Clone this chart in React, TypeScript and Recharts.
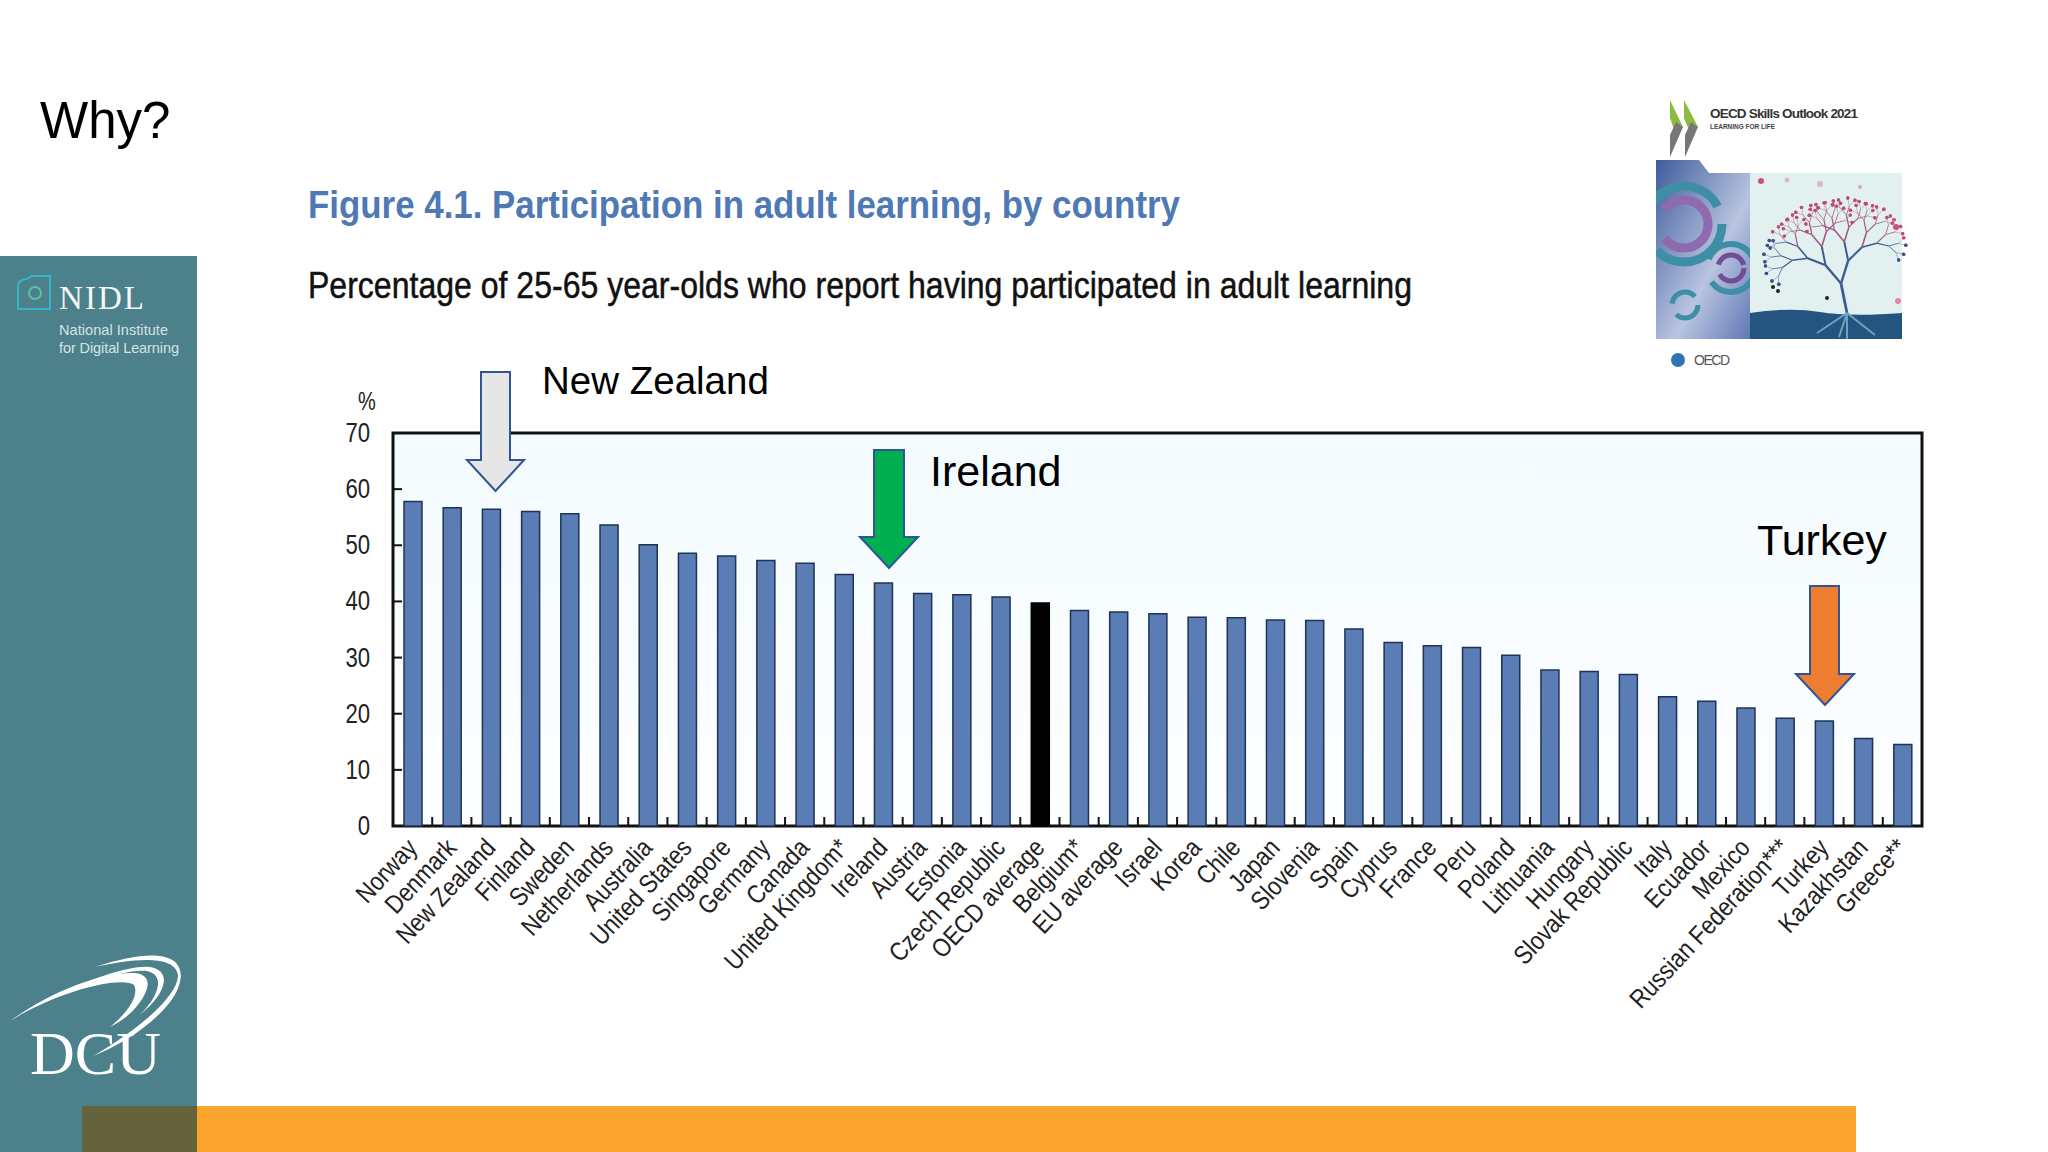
import React from 'react'
import { BarChart, Bar, XAxis, YAxis, Cell, ReferenceArea } from 'recharts'

const countries = [
  'Norway', 'Denmark', 'New Zealand', 'Finland', 'Sweden', 'Netherlands', 'Australia', 'United States',
  'Singapore', 'Germany', 'Canada', 'United Kingdom*', 'Ireland', 'Austria', 'Estonia', 'Czech Republic',
  'OECD average', 'Belgium*', 'EU average', 'Israel', 'Korea', 'Chile', 'Japan', 'Slovenia', 'Spain',
  'Cyprus', 'France', 'Peru', 'Poland', 'Lithuania', 'Hungary', 'Slovak Republic', 'Italy', 'Ecuador',
  'Mexico', 'Russian Federation***', 'Turkey', 'Kazakhstan', 'Greece**'
]
const participation = [
  57.8, 56.7, 56.4, 56, 55.6, 53.6, 50.1, 48.6, 48.1, 47.3, 46.8, 44.8, 43.3, 41.4, 41.2, 40.8, 39.7, 38.4,
  38.1, 37.8, 37.2, 37.1, 36.7, 36.6, 35.1, 32.7, 32.1, 31.8, 30.4, 27.8, 27.5, 27, 23, 22.2, 21, 19.2, 18.7,
  15.6, 14.5
]
const yTicks = [0, 10, 20, 30, 40, 50, 60, 70]
const data = countries.map((name, i) => ({ name, value: participation[i] }))

const sans = '"Liberation Sans", Arial, sans-serif'
const serif = '"Liberation Serif", serif'
const step = 1529 / countries.length

function CountryTick({ x, y, payload, index }: any) {
  return (
    <g>
      {index > 0 && <line x1={x - step / 2} x2={x - step / 2} y1={y - 9} y2={y} stroke="#111" strokeWidth={2} />}
      <text
        transform={`translate(${x + 6} ${y + 23}) rotate(-47) scale(0.86 1)`}
        textAnchor="end"
        fontFamily={sans}
        fontSize={26}
        fill="#222"
      >
        {payload.value}
      </text>
    </g>
  )
}

function PercentTick({ x, y, payload }: any) {
  return (
    <g>
      {payload.value > 0 && payload.value < 70 && <line x1={x} x2={x + 9} y1={y} y2={y} stroke="#111" strokeWidth={2} />}
      <text transform={`translate(${x - 23} ${y + 9}) scale(0.82 1)`} textAnchor="end" fontFamily={sans} fontSize={27} fill="#222">
        {payload.value}
      </text>
    </g>
  )
}

function Arrow({ l, r, wl, wr, top, neck, tip, fill }: any) {
  const cx = (wl + wr) / 2
  return (
    <polygon
      points={`${l},${top} ${r},${top} ${r},${neck} ${wr},${neck} ${cx},${tip} ${wl},${neck} ${l},${neck}`}
      fill={fill}
      stroke="#2F5597"
      strokeWidth={2}
    />
  )
}

// tree on the book cover, only decoration
function branches(x: number, y: number, a: number, len: number, depth: number, out: any[]) {
  if (depth === 0) {
    out.push(<circle key={out.length} cx={x} cy={y} r={1.7} fill={y < 240 ? '#C04A78' : '#3F4F8F'} />)
    return
  }
  const x2 = x + Math.cos(a) * len
  const y2 = y + Math.sin(a) * len
  out.push(
    <line key={out.length} x1={x} y1={y} x2={x2} y2={y2} stroke={y2 < 240 ? '#A8567F' : '#3F5C8F'} strokeWidth={depth * 0.4} />
  )
  branches(x2, y2, a - 0.5, len * 0.8, depth - 1, out)
  branches(x2, y2, a + 0.5, len * 0.8, depth - 1, out)
}

function Tree() {
  const out: any[] = []
  branches(1847, 313, -Math.PI / 2 - 0.2, 30, 7, out)
  return <g>{out}</g>
}

const coverDots = [
  [1761, 181, 3, '#C9527F'], [1787, 180, 2.5, '#D9B8C8'], [1820, 184, 3, '#D9B8C8'], [1860, 187, 2, '#D9A8BC'],
  [1896, 227, 3, '#C9527F'], [1898, 301, 3, '#E08AA8'], [1773, 287, 2, '#222'], [1778, 291, 2, '#222'], [1827, 298, 2, '#222']
]

export default function App() {
  return (
    <div style={{ position: 'absolute', left: 0, top: 0, width: 2048, height: 1152, background: '#fff', overflow: 'hidden' }}>
      <div style={{ position: 'absolute', left: 0, top: 0 }}>
        <BarChart
          width={2048}
          height={1152}
          data={data}
          barSize={18}
          margin={{ top: 433, right: 126, bottom: 226, left: 333 }}
        >
          <defs>
            <linearGradient id="plotBg" x1="0" y1="0" x2="0" y2="1">
              <stop offset="0" stopColor="#F3FBFE" />
              <stop offset="1" stopColor="#FDFEFF" />
            </linearGradient>
          </defs>
          <ReferenceArea y1={0} y2={70} fill="url(#plotBg)" fillOpacity={1} stroke="#111" strokeWidth={3} />
          <XAxis dataKey="name" interval={0} height={100} axisLine={false} tickLine={false} tickSize={0} tickMargin={0} tick={<CountryTick />} />
          <YAxis width={60} domain={[0, 70]} ticks={yTicks} axisLine={false} tickLine={false} tickSize={0} tickMargin={0} tick={<PercentTick />} />
          <Bar dataKey="value" isAnimationActive={false} fill="#5A7DB6" stroke="#1F3355" strokeWidth={1.5}>
            {data.map((d) => (
              <Cell key={d.name} fill={d.name === 'OECD average' ? '#000' : '#5A7DB6'} stroke={d.name === 'OECD average' ? '#000' : '#1F3355'} />
            ))}
          </Bar>
        </BarChart>
      </div>

      <svg width={2048} height={1152} style={{ position: 'absolute', left: 0, top: 0, pointerEvents: 'none' }}>
        <defs>
          <linearGradient id="coverBlue" x1="0" y1="0" x2="1" y2="1">
            <stop offset="0" stopColor="#3E5C9C" />
            <stop offset="0.6" stopColor="#B9C4E0" />
            <stop offset="1" stopColor="#5F78B4" />
          </linearGradient>
          <clipPath id="coverLeft">
            <polygon points="1656,160 1699,160 1709,173 1750,173 1750,339 1656,339" />
          </clipPath>
        </defs>

        <text x={40} y={138} fontFamily={sans} fontSize={51} fill="#000">Why?</text>
        <text x={308} y={218} fontFamily={sans} fontWeight="bold" fontSize={39} fill="#4F79B5" textLength={872} lengthAdjust="spacingAndGlyphs">
          Figure 4.1. Participation in adult learning, by country
        </text>
        <text x={308} y={298} fontFamily={sans} fontSize={37} fill="#111" stroke="#111" strokeWidth={0.5} textLength={1104} lengthAdjust="spacingAndGlyphs">
          Percentage of 25-65 year-olds who report having participated in adult learning
        </text>
        <text transform="translate(358 410) scale(0.8 1)" fontFamily={sans} fontSize={25} fill="#222">%</text>

        <text x={542} y={394} fontFamily={sans} fontSize={38.5} fill="#000">New Zealand</text>
        <text x={930} y={486} fontFamily={sans} fontSize={43} fill="#000">Ireland</text>
        <text x={1757} y={555} fontFamily={sans} fontSize={43} fill="#000">Turkey</text>
        <Arrow l={481} r={510} wl={467} wr={524} top={372} neck={460} tip={491} fill="#E7E6E6" />
        <Arrow l={874} r={904} wl={860} wr={918} top={450} neck={537} tip={568} fill="#00B050" />
        <Arrow l={1810} r={1839} wl={1796} wr={1854} top={586} neck={674} tip={705} fill="#ED7D31" />

        {/* slide furniture */}
        <rect x={0} y={256} width={197} height={896} fill="#4C808A" />
        <rect x={197} y={1106} width={1659} height={46} fill="#FBA52F" />
        <rect x={82} y={1106} width={115} height={46} fill="#64633B" />
        <path d="M18 286 q0 -6 8 -7 q4 -1 5 -3 h19 v33 h-32 z" fill="none" stroke="#35B5C8" strokeWidth={2} />
        <circle cx={35} cy={293} r={6} fill="none" stroke="#5CC29A" strokeWidth={2} />
        <text x={59} y={309} fontFamily={serif} fontSize={33} fill="#F2F7F7" textLength={85}>NIDL</text>
        <text x={59} y={335} fontFamily={sans} fontSize={14.5} fill="#D5E3E6" textLength={109}>National Institute</text>
        <text x={59} y={353} fontFamily={sans} fontSize={14.5} fill="#D5E3E6" textLength={120}>for Digital Learning</text>

        <g fill="#fff">
          <path d="M10 1021 C50 992 100 972 135 973 C152 975 150 988 140 1002 C132 1014 120 1022 110 1027 C125 1015 140 996 134 985 C122 976 60 990 10 1021 Z" />
          <path d="M43 1003 C80 982 130 964 150 967 C170 970 170 990 140 1015 C160 995 165 975 147 971 C125 968 80 986 43 1003 Z" />
          <path d="M95 967 C125 957 150 953 165 957 C186 962 186 985 165 1008 C145 1030 120 1045 93 1056 C125 1038 178 1000 178 975 C175 955 135 958 95 967 Z" />
        </g>
        <text x={30} y={1074} fontFamily={serif} fontSize={62} fill="#fff">DCU</text>

        {/* book cover */}
        <polygon points="1670,100 1683,127 1676,135 1670,118" fill="#8DBB3F" />
        <polygon points="1683,127 1670,157 1670,135 1676,122" fill="#777" />
        <polygon points="1684,100 1698,127 1691,135 1684,118" fill="#8DBB3F" />
        <polygon points="1698,127 1685,157 1685,135 1691,122" fill="#777" />
        <text x={1710} y={118} fontFamily={sans} fontWeight="bold" fontSize={13.5} fill="#333" textLength={148}>OECD Skills Outlook 2021</text>
        <text x={1710} y={129} fontFamily={sans} fontWeight="bold" fontSize={6.5} fill="#444" textLength={65}>LEARNING FOR LIFE</text>
        <polygon points="1656,160 1699,160 1709,173 1750,173 1750,339 1656,339" fill="url(#coverBlue)" />
        <rect x={1750} y={173} width={152} height={166} fill="#E2F1F0" />
        <path d="M1750 313 q40 -6 70 -1 t82 1 v26 h-152 z" fill="#24547F" />
        <g fill="none" clipPath="url(#coverLeft)">
          <circle cx={1684} cy={224} r={38} stroke="#3E8FA5" strokeWidth={9} strokeDasharray="90 40" />
          <circle cx={1684} cy={224} r={24} stroke="#8F6AAE" strokeWidth={9} strokeDasharray="60 30" />
          <circle cx={1731} cy={268} r={24} stroke="#3E8FA5" strokeWidth={6} strokeDasharray="60 24" />
          <circle cx={1731} cy={268} r={13} stroke="#6F4E96" strokeWidth={5} strokeDasharray="34 10" />
          <circle cx={1685} cy={305} r={13} stroke="#3E8FA5" strokeWidth={5} strokeDasharray="30 12" />
        </g>
        <Tree />
        {coverDots.map((d, i) => (
          <circle key={i} cx={d[0] as number} cy={d[1] as number} r={d[2] as number} fill={d[3] as string} />
        ))}
        <path d="M1847 313 l-30 20 M1847 313 l-8 24 M1847 313 l28 22 M1847 313 v26" stroke="#6FA4BF" strokeWidth={2} />
        <circle cx={1678} cy={360} r={7} fill="#2F74B5" />
        <text x={1694} y={365} fontFamily={sans} fontSize={14} fill="#555" textLength={36}>OECD</text>
      </svg>
    </div>
  )
}
